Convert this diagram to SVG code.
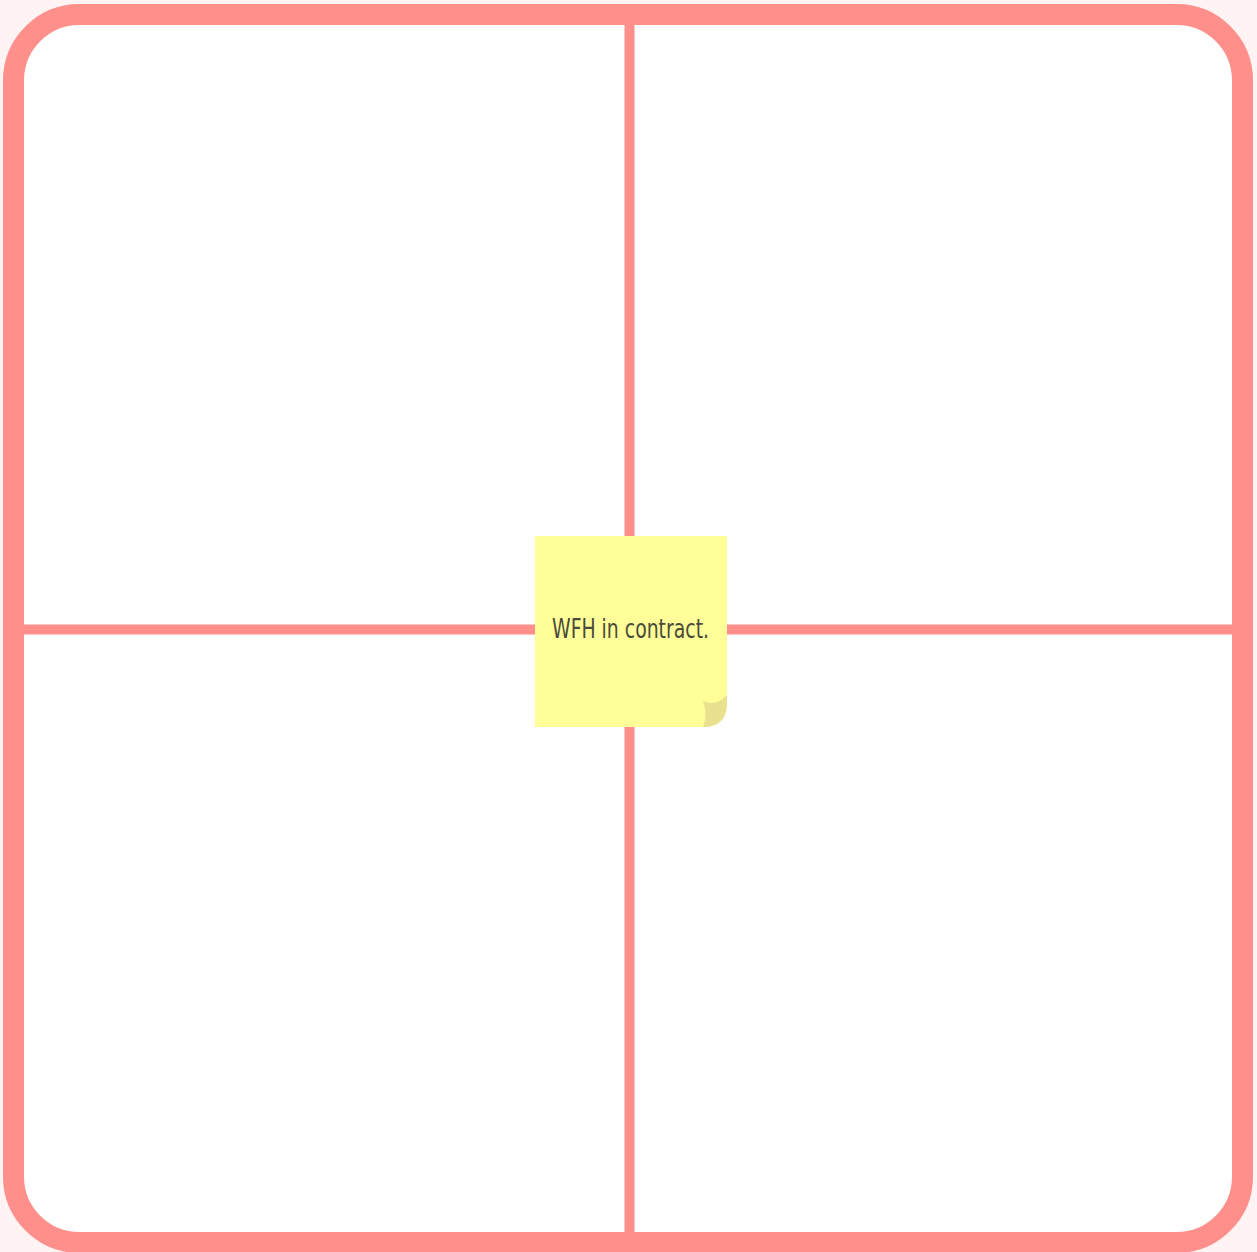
<svg xmlns="http://www.w3.org/2000/svg" width="1257" height="1252" viewBox="0 0 1257 1252">
<style>
.ln{stroke:#FF8F8A}
.txt{font-family:"Liberation Sans Narrow","DejaVu Sans Condensed","Liberation Sans",sans-serif;font-size:26px;fill:#4a4a3a}
</style>
<rect x="0" y="0" width="1257" height="1252" fill="#FFF3F3"/>
<g id="frame">
<rect x="13.5" y="14.5" width="1229" height="1228" rx="66" ry="66" fill="#FFFFFF" class="ln" stroke-width="21"/>
</g>
<g id="connectors">
<line x1="629.5" y1="14" x2="629.5" y2="1243" class="ln" stroke-width="10"/>
<line x1="14" y1="629.5" x2="1242" y2="629.5" class="ln" stroke-width="10"/>
</g>
<g id="note">
<path d="M535,536 H727 V703 Q727,727 703,727 H535 Z" fill="#FFFE99"/>
<path d="M703,727 Q708,715 703,701 Q716,707 727,695 V703 Q727,727 703,727 Z" fill="#E8E290"/>
<text x="630.5" y="638" text-anchor="middle" class="txt" textLength="157" lengthAdjust="spacingAndGlyphs">WFH in contract.</text>
</g>
</svg>
